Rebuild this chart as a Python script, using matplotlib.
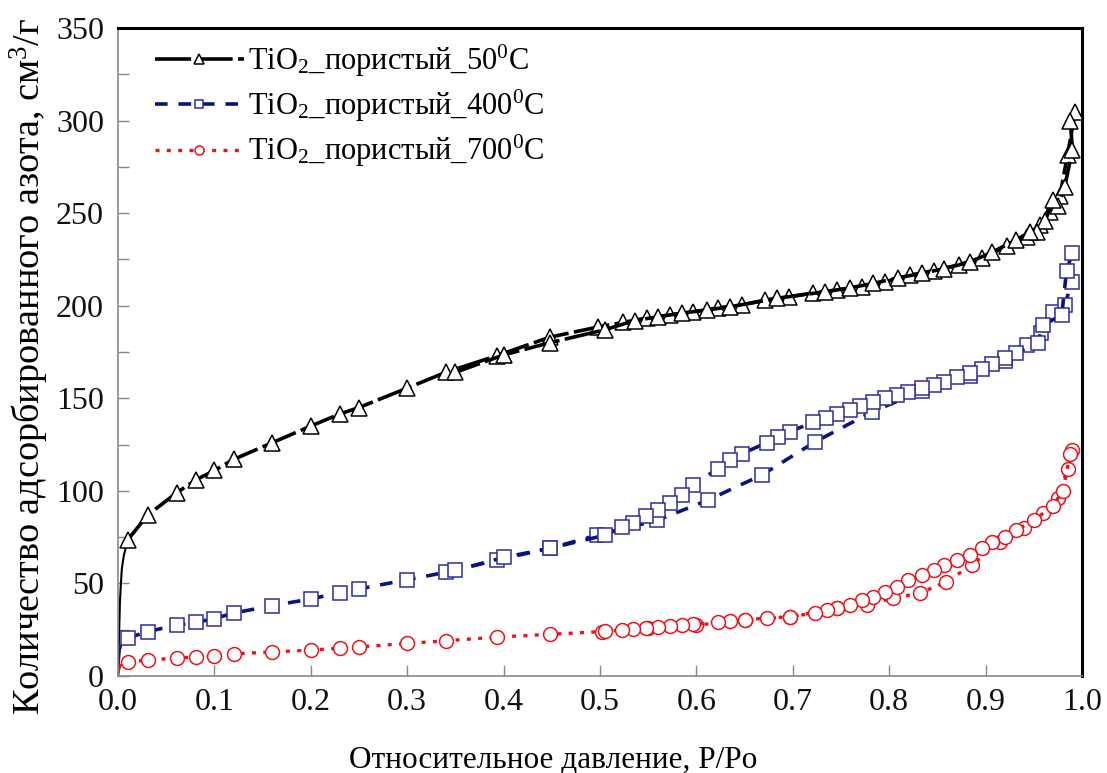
import numpy as np
import matplotlib.pyplot as plt
from matplotlib.ticker import MultipleLocator

plt.rcParams['font.family'] = ['Liberation Serif', 'DejaVu Serif']
plt.rcParams['mathtext.fontset'] = 'custom'
plt.rcParams['mathtext.rm'] = 'Liberation Serif'
plt.rcParams['mathtext.it'] = 'Liberation Serif:italic'

# TiO2 porous, 50 C
p_ads_50 = [0.010, 0.031, 0.061, 0.081, 0.100, 0.120, 0.160, 0.200, 0.230, 0.250,
            0.300, 0.340, 0.393, 0.448, 0.498, 0.524, 0.549, 0.573, 0.597, 0.622,
            0.647, 0.671, 0.696, 0.721, 0.746, 0.772, 0.796, 0.822, 0.846, 0.872,
            0.896, 0.922, 0.943, 0.956, 0.967, 0.977, 0.985, 0.993]
v_ads_50 = [73.5, 87, 99, 106, 111, 117, 126, 135, 141.5, 145,
            155.5, 164, 173, 183, 188.5, 191, 193.4, 195, 196.6, 198.8,
            200.4, 203, 204.8, 206.9, 208.5, 210, 213, 216.5, 219, 222,
            226, 232, 237, 243.6, 250.6, 259, 281.5, 304.7]
p_des_50 = [0.988, 0.990, 0.982, 0.975, 0.970, 0.962, 0.953, 0.946, 0.932, 0.907,
            0.884, 0.857, 0.834, 0.809, 0.783, 0.759, 0.733, 0.684, 0.635, 0.611,
            0.585, 0.560, 0.536, 0.505, 0.448, 0.400, 0.350]
v_des_50 = [300, 284, 264, 254, 257, 246, 240, 240, 235.5, 229,
            223.6, 220, 217.5, 215, 212, 209.6, 207.5, 204, 199.4, 197.7,
            196, 194, 192, 187, 180, 173.4, 164]
p_low_50 = [0.0005, 0.001, 0.0015, 0.002, 0.003, 0.004, 0.006, 0.010]
v_low_50 = [10, 20, 30, 40, 50, 58, 65, 73.5]

# TiO2 porous, 400 C
p_ads_400 = [0.010, 0.031, 0.061, 0.081, 0.100, 0.120, 0.160, 0.200, 0.230, 0.250,
             0.300, 0.340, 0.393, 0.448, 0.497, 0.559, 0.612, 0.668, 0.723, 0.782,
             0.834, 0.884, 0.920, 0.943, 0.958, 0.970, 0.982, 0.990]
v_ads_400 = [20.5, 24, 27.5, 29, 31, 34, 38, 41.6, 45, 47,
             52, 56, 62.6, 69, 76, 84, 95, 108.6, 126.4, 142.6,
             154, 162, 170, 179, 185, 196.7, 200.5, 213]
p_des_400 = [0.990, 0.984, 0.979, 0.960, 0.954, 0.932, 0.920, 0.907, 0.896, 0.884,
             0.870, 0.857, 0.846, 0.834, 0.820, 0.808, 0.796, 0.783, 0.770, 0.759,
             0.746, 0.734, 0.721, 0.697, 0.685, 0.673, 0.647, 0.635, 0.622, 0.597,
             0.585, 0.573, 0.560, 0.548, 0.534, 0.523, 0.505, 0.448, 0.400, 0.350]
v_des_400 = [228.5, 219, 195, 189.6, 180, 174.5, 171.8, 168.6, 165.8, 163.7,
             161.5, 159, 157.2, 155.6, 153.4, 151.7, 150, 148, 145.9, 143.7,
             141.5, 139.5, 137, 132, 129, 126, 120, 116.7, 112, 103,
             98, 93.5, 89.7, 86.4, 82.6, 80.5, 76, 69, 64, 57]
p_low_400 = [0.0005, 0.001, 0.002, 0.004, 0.010]
v_low_400 = [2, 8, 14, 18, 20.5]

# TiO2 porous, 700 C
p_ads_700 = [0.010, 0.031, 0.061, 0.081, 0.100, 0.120, 0.160, 0.200, 0.230, 0.250,
             0.300, 0.340, 0.393, 0.448, 0.502, 0.550, 0.600, 0.650, 0.697, 0.746,
             0.777, 0.804, 0.832, 0.859, 0.886, 0.915, 0.940, 0.960, 0.975, 0.985,
             0.990]
v_ads_700 = [7.6, 8.6, 9.7, 10.3, 10.8, 11.9, 13, 14, 15, 15.7,
             17.6, 19, 21, 22.5, 24, 26, 27.5, 30, 32, 36.7,
             38.4, 42, 44.8, 50.8, 60, 72.4, 80, 88, 96, 112,
             122]
p_des_700 = [0.988, 0.980, 0.970, 0.950, 0.932, 0.920, 0.907, 0.896, 0.884, 0.870,
             0.857, 0.846, 0.834, 0.820, 0.808, 0.796, 0.783, 0.772, 0.759, 0.746,
             0.735, 0.723, 0.697, 0.673, 0.650, 0.635, 0.622, 0.597, 0.585, 0.573,
             0.560, 0.548, 0.534, 0.523, 0.505]
v_des_700 = [120, 100, 92, 84, 78.9, 75, 72.4, 69, 65.4, 62.7,
             60, 57.3, 54.6, 51.9, 48, 45.4, 42.7, 41, 38.4, 36.7,
             35.6, 34, 32, 31.3, 30.3, 29.5, 29, 28, 27.5, 27,
             26.5, 26, 25.5, 25, 24.5]
p_low_700 = [0.0005, 0.001, 0.003, 0.010]
v_low_700 = [1, 3, 6, 7.6]

labels = [r"TiO$_2$_пористый_50$^0$C",
          r"TiO$_2$_пористый_400$^0$C",
          r"TiO$_2$_пористый_700$^0$C"]

series = [
    (p_ads_50, v_ads_50, p_des_50, v_des_50, p_low_50, v_low_50,
     "#000000", "#000000", "^", 11, (10, 1.5), 2.6),
    (p_ads_400, v_ads_400, p_des_400, v_des_400, p_low_400, v_low_400,
     "#0a1480", "#2e2e9a", "s", 9.5, (3.5, 3), 2.6),
    (p_ads_700, v_ads_700, p_des_700, v_des_700, p_low_700, v_low_700,
     "#e8141c", "#e8141c", "o", 10, (1.2, 2.2), 2.4),
]

fig = plt.figure(figsize=(11.07, 7.73), dpi=100)
ax = fig.add_axes([0.1066, 0.1255, 0.8708, 0.8383])

handles = []
for (pa, va, pd, vd, pl, vl, lc, mc, mk, ms, dash, lw), lab in zip(series, labels):
    ax.plot(pl, vl, color=lc, lw=1.5, zorder=2)
    for p, v in ((pa, va), (pd, vd)):
        h, = ax.plot(p, v, color=lc, lw=lw, dashes=dash, marker=mk, ms=ms,
                     mfc="white", mec=mc, mew=1.1, zorder=3)
    handles.append(h)

ax.set_xlim(0, 1.0)
ax.set_ylim(0, 350)
ax.set_xticks(np.round(np.arange(0, 1.01, 0.1), 1))
ax.set_xticklabels([f"{t:.1f}" for t in np.arange(0, 1.01, 0.1)])
ax.yaxis.set_major_locator(MultipleLocator(50))
ax.yaxis.set_minor_locator(MultipleLocator(25))

ax.tick_params(axis="both", which="both", direction="in", colors="#888888",
               labelcolor="#111111", labelsize=23, top=False, right=False)
ax.tick_params(axis="both", which="major", length=8, width=1)
ax.tick_params(axis="y", which="minor", length=8, width=1)
ax.tick_params(axis="x", pad=9)
ax.tick_params(axis="y", pad=10)

for s in ("left", "bottom"):
    ax.spines[s].set_color("#888888")
    ax.spines[s].set_linewidth(1.2)
for s in ("top", "right"):
    ax.spines[s].set_color("#000000")
    ax.spines[s].set_linewidth(2.2)

ax.set_xlabel("Относительное давление, P/Po", fontsize=22.5)
ax.xaxis.set_label_coords(0.451, -0.108)
ax.set_ylabel(r"Количество адсорбированного азота, см$^3$/г", fontsize=27.5)
ax.yaxis.set_label_coords(-0.070, 0.478)

ax.legend(handles, labels, loc="upper left", bbox_to_anchor=(0.01, 1.02),
          frameon=False, fontsize=22, handlelength=2.9, handletextpad=0.15,
          labelspacing=0.3, markerscale=0.65)

fig.savefig("out.png", dpi=100)
